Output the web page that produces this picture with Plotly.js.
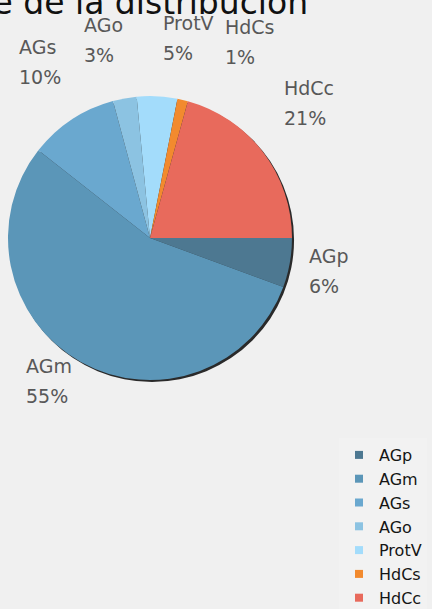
<!DOCTYPE html>
<html>
<head>
<meta charset="utf-8">
<script src="https://cdn.plot.ly/plotly-3.0.1.min.js"></script>
<style>html,body{margin:0;padding:0;background:#f0f0f0;overflow:hidden;width:432px;height:609px}#chart{width:432px;height:640px}</style>
</head>
<body>
<div id="chart"></div>
<script>
// ---- data ----
const categories = ['AGp', 'AGm', 'AGs', 'AGo', 'ProtV', 'HdCs', 'HdCc'];
const values = [5.6, 55.0, 10.2, 2.7, 4.6, 1.2, 20.7];
const titleText = 'Porcentaje de la distribución';

// ---- styles ----
const colors = ['#4d7891', '#5b96b8', '#6aa8cf', '#8cc3e2', '#a3dcfb', '#f28a2e', '#e86a5c'];
// label nudges in px (left-x, centre-y) relative to a point on a ring around the pie
const labelNudge = [[-30, 0], [-33, -23], [-28, -18], [-34, -11], [1, -10], [29, -11], [-19, -20]];

// layout is a bit taller than the 609px window so the legend can run off the bottom edge
const W = 432, H = 640;
const cx = 150, cy = 238, R = 142, ringR = 190;
const dom = {
  x: [(cx - R) / W, (cx + R) / W],
  y: [1 - (cy + R) / H, 1 - (cy - R) / H]
};
const sh = 2;
const shadowDom = {
  x: [(cx - R + sh) / W, (cx + R + sh) / W],
  y: [1 - (cy + R + sh) / H, 1 - (cy - R + sh) / H]
};

const total = values.reduce((a, b) => a + b, 0);

const traces = [];
// shadow
traces.push({
  type: 'pie', values: [1], labels: ['shadow'], domain: shadowDom,
  marker: {colors: ['#2a2a2a'], line: {width: 0}}, textinfo: 'none',
  hoverinfo: 'skip', showlegend: false, sort: false
});
// main pie
traces.push({
  type: 'pie', values: values, labels: categories, domain: dom,
  sort: false, direction: 'clockwise', rotation: 90,
  marker: {colors: colors, line: {width: 0}}, textinfo: 'none',
  showlegend: false
});
// legend entries
categories.forEach((c, i) => {
  traces.push({
    type: 'scatter', x: [null], y: [null], mode: 'markers', name: c,
    marker: {symbol: 'square', size: 8, color: colors[i]},
    showlegend: true, hoverinfo: 'skip'
  });
});

const annotations = [];
let cum = 0;
values.forEach((v, i) => {
  const mid = -((cum + v / 2) / total) * 2 * Math.PI;
  cum += v;
  const px = cx + ringR * Math.cos(mid) + labelNudge[i][0];
  const py = cy - ringR * Math.sin(mid) + labelNudge[i][1];
  const pct = Math.round(v / total * 100) + '%';
  const f = {family: 'DejaVu Sans', size: 19, color: '#585858'};
  annotations.push({xref: 'paper', yref: 'paper', x: px / W, y: 1 - (py - 15) / H,
    xanchor: 'left', yanchor: 'middle', text: categories[i], showarrow: false, font: f});
  annotations.push({xref: 'paper', yref: 'paper', x: px / W, y: 1 - (py + 15) / H,
    xanchor: 'left', yanchor: 'middle', text: pct, showarrow: false, font: f});
});
annotations.push({
  xref: 'paper', yref: 'paper', x: 310 / W, y: 1 - 3 / H, xanchor: 'right', yanchor: 'middle',
  text: titleText, showarrow: false, font: {family: 'DejaVu Sans', size: 33, color: '#111111'}
});

const layout = {
  width: W, height: H,
  margin: {l: 0, r: 0, t: 0, b: 0},
  paper_bgcolor: '#f0f0f0', plot_bgcolor: '#f0f0f0',
  xaxis: {visible: false}, yaxis: {visible: false},
  showlegend: true,
  legend: {
    x: 339 / W, xanchor: 'left', y: 1 - 438 / H, yanchor: 'top',
    bgcolor: '#f2f2f2', borderwidth: 0, itemwidth: 30,
    font: {family: 'DejaVu Sans', size: 16, color: '#151515'}
  },
  annotations: annotations
};

Plotly.newPlot('chart', traces, layout, {staticPlot: true, displayModeBar: false});
</script>
</body>
</html>
